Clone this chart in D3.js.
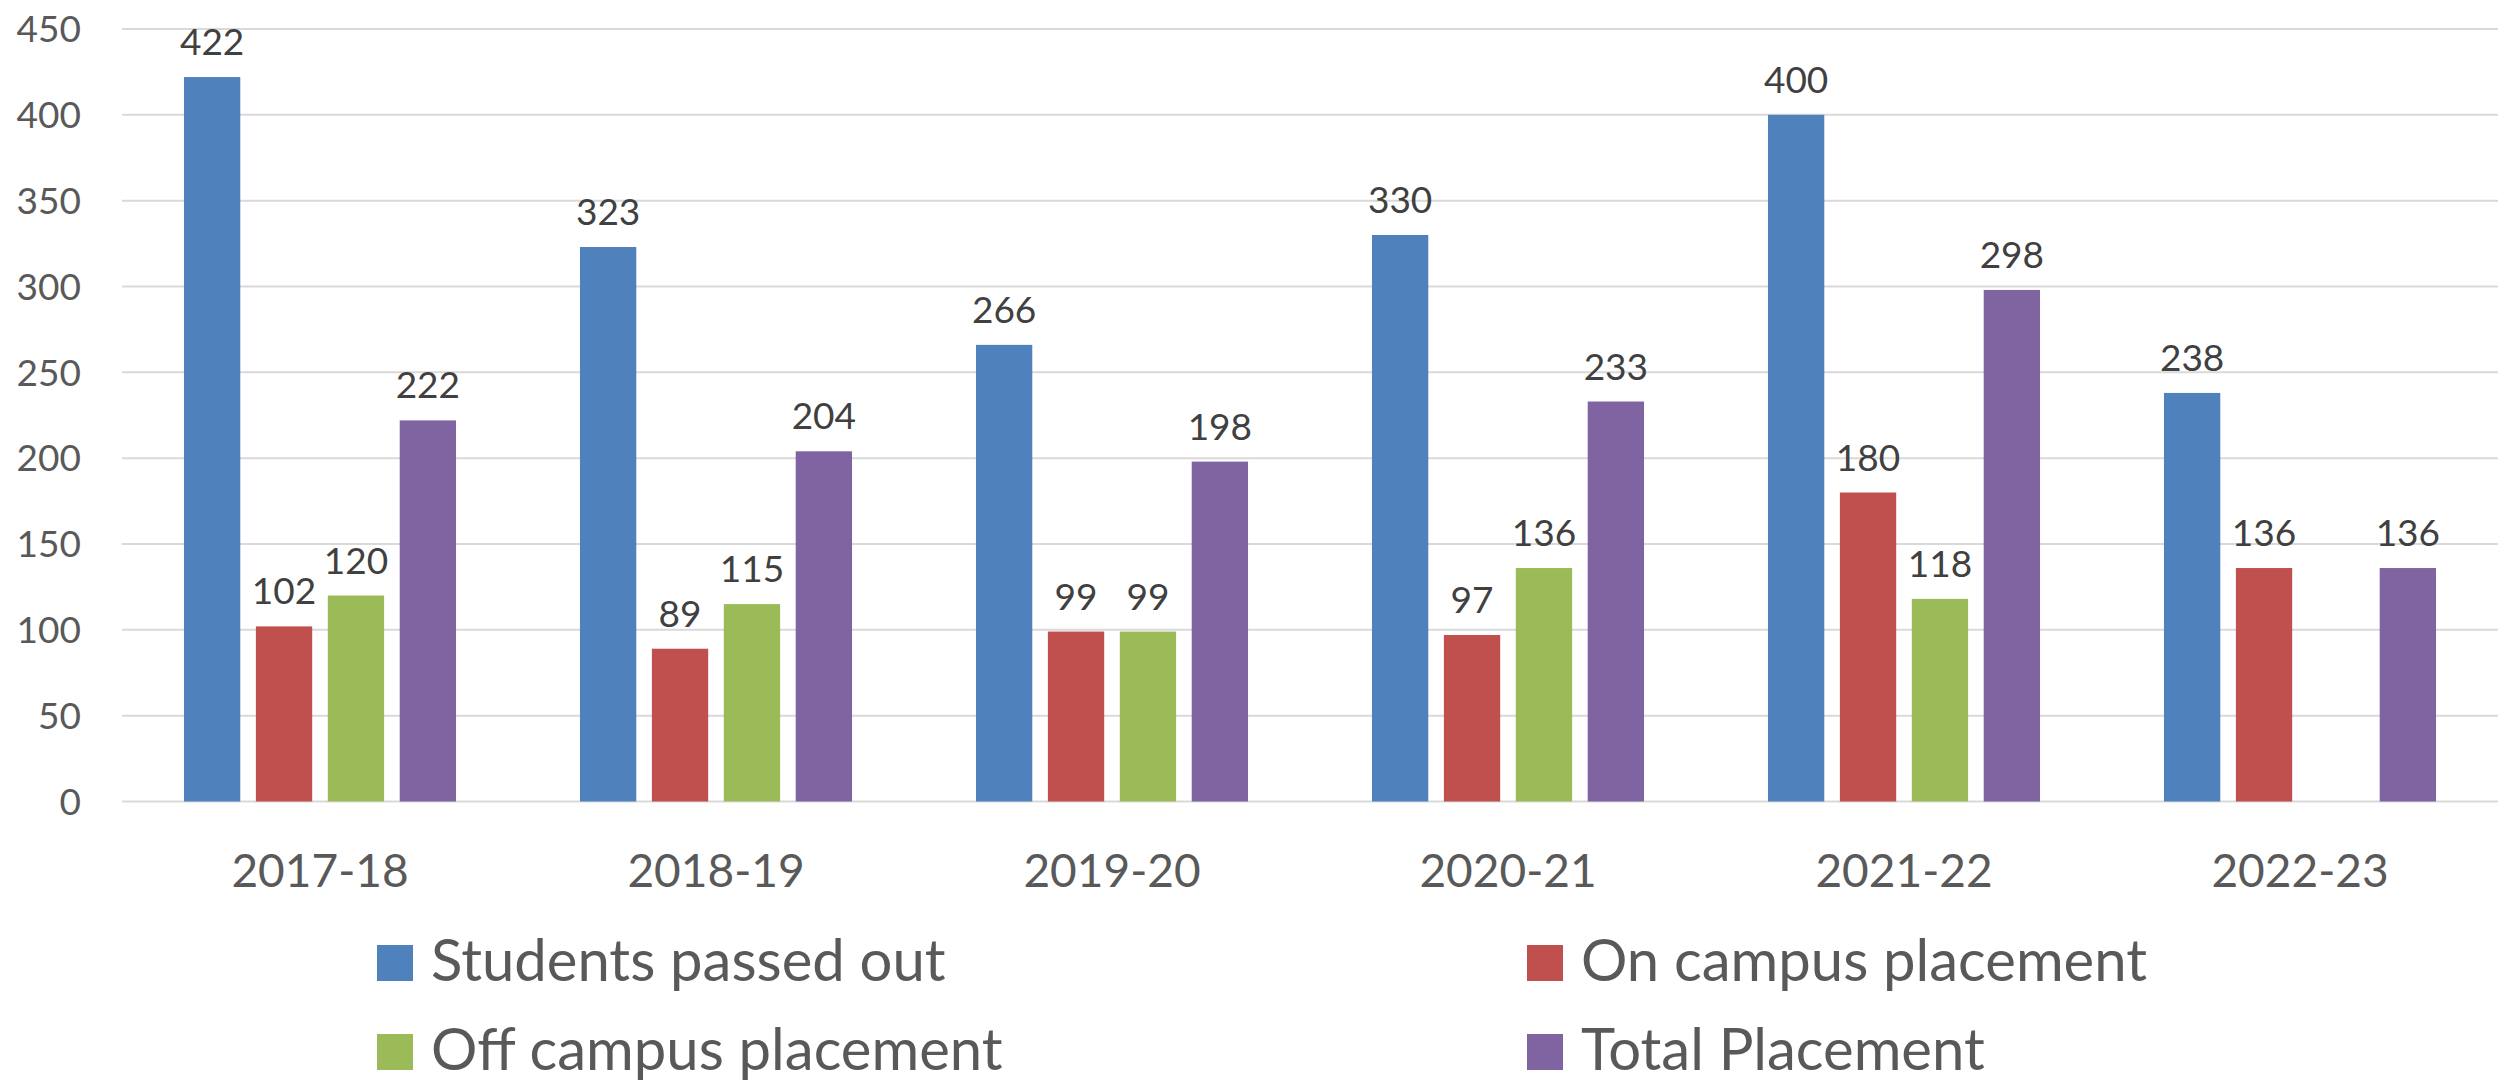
<!DOCTYPE html>
<html>
<head>
<meta charset="utf-8">
<script src="https://cdn.jsdelivr.net/npm/d3@7"></script>
<style>
  html, body { margin: 0; padding: 0; background: #fff; }
  svg { display: block; }
  text { font-family: Lato, "Open Sans", sans-serif; }
</style>
</head>
<body>
<svg id="chart" width="2503" height="1083"></svg>
<script>
const categories = ["2017-18", "2018-19", "2019-20", "2020-21", "2021-22", "2022-23"];
const seriesNames = ["Students passed out", "On campus placement", "Off campus placement", "Total Placement"];
const studentsPassedOut = [422, 323, 266, 330, 400, 238];
const onCampus = [102, 89, 99, 97, 180, 136];
const offCampus = [120, 115, 99, 136, 118, null];
const totalPlacement = [222, 204, 198, 233, 298, 136];
const yTicks = [0, 50, 100, 150, 200, 250, 300, 350, 400, 450];
const colors = ["#4F81BD", "#C0504D", "#9BBB59", "#8064A2"];

const seriesValues = [studentsPassedOut, onCampus, offCampus, totalPlacement];

const svg = d3.select("#chart");
const plot = { left: 122, right: 2498, top: 29, bottom: 801.5 };

const y = d3.scaleLinear().domain([0, 450]).range([plot.bottom, plot.top]);
const x0 = d3.scaleBand().domain(categories).range([plot.left, plot.right])
  .paddingInner(0.313).paddingOuter(0.1565);
const x1 = d3.scaleBand().domain(seriesNames).range([0, x0.bandwidth()])
  .paddingInner(0.217).paddingOuter(0);

// gridlines
svg.append("g").selectAll("line").data(yTicks).join("line")
  .attr("x1", plot.left).attr("x2", plot.right)
  .attr("y1", d => y(d)).attr("y2", d => y(d))
  .attr("stroke", "#D9D9D9").attr("stroke-width", 2);

// y labels
svg.append("g").selectAll("text").data(yTicks).join("text")
  .attr("x", 81).attr("y", d => y(d)).attr("dy", "0.36em")
  .attr("text-anchor", "end").attr("font-size", 37).attr("fill", "#595959")
  .text(d => d);

// bars
const groups = svg.append("g").selectAll("g").data(categories).join("g")
  .attr("transform", c => `translate(${x0(c)},0)`);

groups.each(function(c, ci) {
  const g = d3.select(this);
  const items = seriesNames.map((s, si) => ({ s, si, v: seriesValues[si][ci] }))
    .filter(d => d.v !== null && d.v !== undefined);
  g.selectAll("rect").data(items).join("rect")
    .attr("x", d => x1(d.s)).attr("width", x1.bandwidth())
    .attr("y", d => y(d.v)).attr("height", d => y(0) - y(d.v))
    .attr("fill", d => colors[d.si]);
  g.selectAll("text").data(items).join("text")
    .attr("x", d => x1(d.s) + x1.bandwidth() / 2)
    .attr("y", d => y(d.v) - 22)
    .attr("text-anchor", "middle").attr("font-size", 37).attr("fill", "#404040")
    .text(d => d.v);
});

// x labels
svg.append("g").selectAll("text").data(categories).join("text")
  .attr("x", c => x0(c) + x0.bandwidth() / 2).attr("y", 887)
  .attr("text-anchor", "middle").attr("font-size", 46).attr("fill", "#595959")
  .text(c => c);

// legend
const legendPos = [
  { x: 377, y: 981 }, { x: 1527, y: 981 },
  { x: 377, y: 1070 }, { x: 1527, y: 1070 }
];
const leg = svg.append("g").selectAll("g").data(seriesNames).join("g")
  .attr("transform", (d, i) => `translate(${legendPos[i].x},${legendPos[i].y})`);
leg.append("rect").attr("x", 0).attr("y", -36).attr("width", 36).attr("height", 36)
  .attr("fill", (d, i) => colors[i]);
leg.append("text").attr("x", 54).attr("y", 0)
  .attr("font-size", 58).attr("fill", "#595959")
  .text(d => d);
</script>
</body>
</html>
